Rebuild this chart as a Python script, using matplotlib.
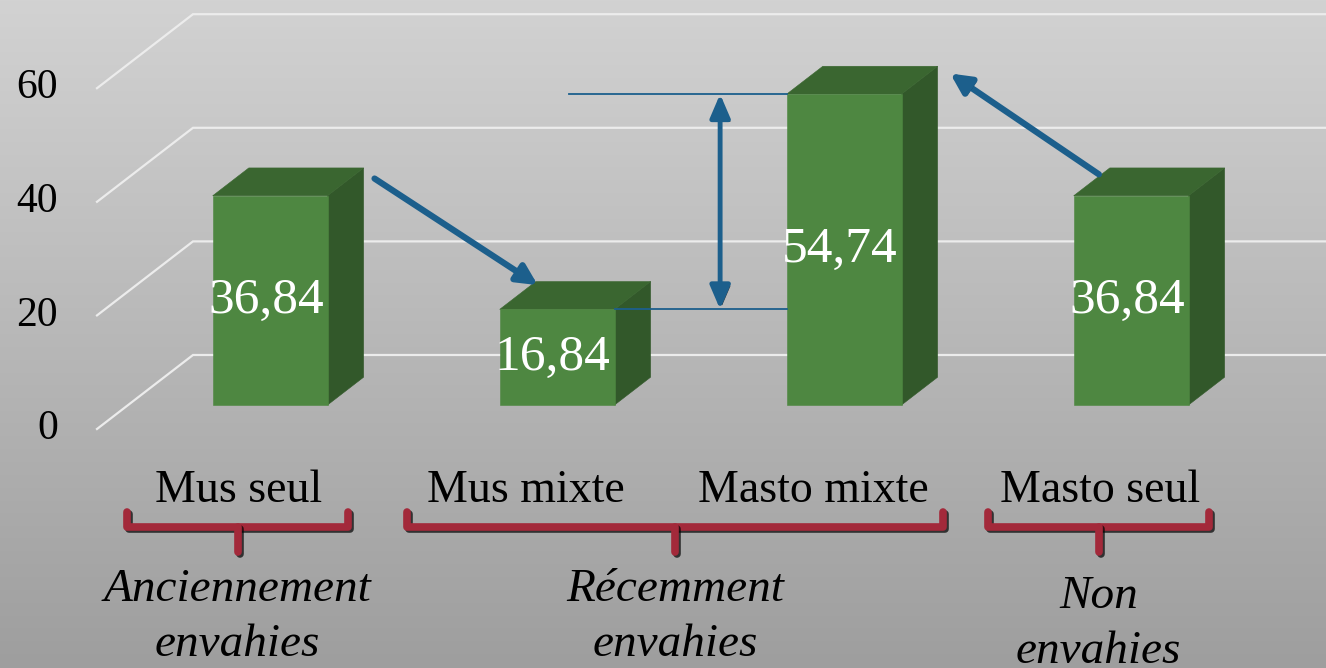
import numpy as np
import matplotlib
matplotlib.use("Agg")
import matplotlib.pyplot as plt
from matplotlib.patches import Polygon, FancyArrowPatch
import matplotlib.patheffects as pe

categories = ["Mus seul", "Mus mixte", "Masto mixte", "Masto seul"]
values = [36.84, 16.84, 54.74, 36.84]
value_labels = ["36,84", "16,84", "54,74", "36,84"]
yticks = [0, 20, 40, 60]
groups = ["Anciennement\nenvahies", "Récemment\nenvahies", "Non\nenvahies"]
group_members = [[0], [1, 2], [3]]

plt.rcParams["font.family"] = ["Liberation Serif", "DejaVu Serif"]

# fake 3d: depth d in [0, 1] shifts a point right and up
DX, DY = 0.3345, 13.03
D0, D1 = 0.324, 0.70          # front / back of the bars
HALF = 0.2                    # half bar width in category units


def proj(x, v, d):
    return x + d * DX, v + d * DY


fig = plt.figure(figsize=(13.26, 6.68), dpi=100)
ax = fig.add_axes([0, 0, 1, 1])
xlim = (-239 / 287, (1326 - 239) / 287)
ylim = (-239 / 5.68, (668 - 239) / 5.68)
ax.set_xlim(*xlim)
ax.set_ylim(*ylim)
ax.axis("off")

# grey backdrop, lighter at the top
grad = np.linspace(0, 1, 256).reshape(-1, 1)
cmap = matplotlib.colors.LinearSegmentedColormap.from_list("bg", ["#d2d2d2", "#9e9e9e"])
ax.imshow(grad, cmap=cmap, origin="upper",
          extent=[xlim[0], xlim[1], ylim[0], ylim[1]],
          aspect="auto", zorder=0)

# gridlines: front edge, diagonal to back wall, then across the wall
x_left = (97 - 239) / 287
for v in yticks:
    bx, by = proj(x_left, v, 1)
    ax.plot([x_left, bx, xlim[1]], [v, by, by], color="#ececec", lw=1.6,
            zorder=1, solid_joinstyle="miter")
    ax.text(-0.63, v, str(v), ha="right", va="center", fontsize=30, color="black")

front_c, top_c, side_c = "#4e8741", "#3a6630", "#32582a"
for i, val in enumerate(values):
    x0, x1 = i - HALF, i + HALF
    front = [proj(x0, 0, D0), proj(x1, 0, D0), proj(x1, val, D0), proj(x0, val, D0)]
    top = [proj(x0, val, D0), proj(x1, val, D0), proj(x1, val, D1), proj(x0, val, D1)]
    side = [proj(x1, 0, D0), proj(x1, 0, D1), proj(x1, val, D1), proj(x1, val, D0)]
    for pts, c in ((side, side_c), (top, top_c), (front, front_c)):
        ax.add_patch(Polygon(pts, closed=True, facecolor=c, edgecolor=c,
                             lw=0.4, zorder=3))
    lx, ly = proj(i, val / 2, D0)
    ax.text(lx - 0.015, ly, value_labels[i], ha="center", va="center",
            fontsize=37, color="white", zorder=5)

# category names and group brackets
for i, name in enumerate(categories):
    ax.text(i, -12.85, name, ha="center", va="baseline", fontsize=33, zorder=5)

blue = "#1c5f8c"
red = "#a3293a"
shadow = [pe.SimpleLineShadow(offset=(1.5, -1.5), shadow_color="black", alpha=0.7),
          pe.Normal()]
y_top, y_mid, y_tick = -14.6, -17.25, -21.65
group_y = [(-28.3, -38.0), (-28.3, -38.0), (-29.6, -39.3)]
for g, members in enumerate(group_members):
    a = members[0] - 0.39 if len(members) == 1 else members[0] - 0.415
    b = members[-1] + 0.38 if len(members) == 1 else members[-1] + 0.453
    xc = (a + b) / 2
    ax.plot([a, a, b, b], [y_top, y_mid, y_mid, y_top], color=red, lw=5.5,
            solid_joinstyle="round", solid_capstyle="round", path_effects=shadow, zorder=4)
    ax.plot([xc, xc], [y_mid, y_tick], color=red, lw=5.5, solid_capstyle="round",
            path_effects=shadow, zorder=4)
    l1, l2 = groups[g].split("\n")
    ax.text(xc, group_y[g][0], l1, ha="center", va="center", fontsize=34,
            style="italic", zorder=5)
    ax.text(xc, group_y[g][1], l2, ha="center", va="center", fontsize=34,
            style="italic", zorder=5)

arrow_shadow = [pe.SimplePatchShadow(offset=(1.5, -1.5), shadow_rgbFace="black", alpha=0.7),
                pe.Normal()]

# change arrows between bar tops
def top_corner(i, right):
    x = i + HALF if right else i - HALF
    return proj(x, values[i], D1)


sx, sy = top_corner(0, True)
ex, ey = top_corner(1, False)
ax.add_patch(FancyArrowPatch((sx + 0.03, sy - 1.6), (ex + 0.015, ey - 0.9),
                             arrowstyle="-|>,head_length=12,head_width=6",
                             lw=4.5, color=blue, mutation_scale=1,
                             path_effects=arrow_shadow, zorder=6))
sx, sy = top_corner(3, False)
ex, ey = top_corner(2, True)
ax.add_patch(FancyArrowPatch((sx - 0.03, sy - 1.4), (ex + 0.036, ey - 1.0),
                             arrowstyle="-|>,head_length=12,head_width=6",
                             lw=4.5, color=blue, mutation_scale=1,
                             path_effects=arrow_shadow, zorder=6))

# difference between Mus mixte and Masto mixte
hi_x0, hi_y = proj(1.042, values[2], D0)
hi_x1, _ = proj(2 - HALF, values[2], D0)
lo_x0, lo_y = proj(1 + HALF, values[1], D0)
lo_x1, _ = proj(2 - HALF, values[1], D0)
ax.plot([hi_x0, hi_x1], [hi_y, hi_y], color=blue, lw=1.3, zorder=4)
ax.plot([lo_x0, lo_x1], [lo_y, lo_y], color=blue, lw=1.3, zorder=4)
mx, _ = proj(1.568, 0, D0)
ax.add_patch(FancyArrowPatch((mx, lo_y), (mx, hi_y),
                             arrowstyle="<|-|>,head_length=14,head_width=6",
                             lw=3.5, color=blue, mutation_scale=1, shrinkA=0, shrinkB=0,
                             path_effects=arrow_shadow, zorder=6))

fig.savefig("out.png", dpi=100)
